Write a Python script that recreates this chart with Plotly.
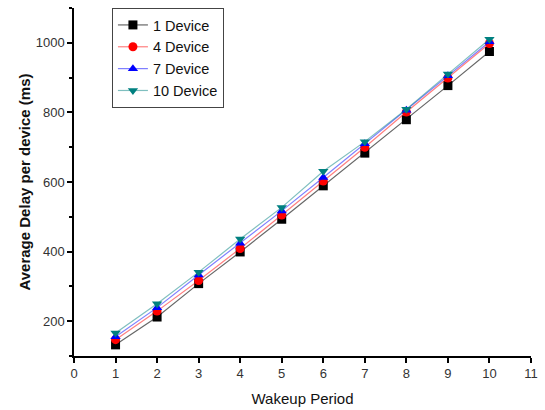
import plotly.graph_objects as go

wakeup = [1, 2, 3, 4, 5, 6, 7, 8, 9, 10]
dev1 = [132, 212, 308, 399, 493, 589, 683, 779, 877, 975]
dev4 = [147, 229, 317, 409, 505, 603, 700, 801, 899, 998]
dev7 = [155, 239, 333, 424, 517, 613, 710, 806, 905, 1003]
dev10 = [166, 250, 341, 436, 527, 631, 716, 809, 910, 1010]

series = [
    ("1 Device", dev1, "#000000", "rgba(0,0,0,0.6)", "square"),
    ("4 Device", dev4, "#ff0000", "rgba(255,0,0,0.5)", "circle"),
    ("7 Device", dev7, "#0000ff", "rgba(0,0,255,0.5)", "triangle-up"),
    ("10 Device", dev10, "#008080", "rgba(0,128,128,0.5)", "triangle-down"),
]

fig = go.Figure()
for name, vals, mc, lc, sym in series:
    fig.add_trace(go.Scatter(
        x=wakeup, y=vals, name=name, mode="lines+markers",
        line=dict(color=lc, width=1.2),
        marker=dict(symbol=sym, size=9, color=mc, line=dict(width=0)),
    ))

fig.update_layout(
    width=545, height=410,
    margin=dict(l=74, r=14, t=8, b=54, autoexpand=False),
    paper_bgcolor="white", plot_bgcolor="white",
    font=dict(family="Arial, Liberation Sans, sans-serif", color="#222222"),
    showlegend=True,
    legend=dict(
        x=0.083, y=1.0, xanchor="left", yanchor="top",
        bordercolor="#444444", borderwidth=1, bgcolor="white",
        font=dict(size=14.5, color="#111111"),
        tracegroupgap=0,
    ),
)
fig.update_xaxes(
    range=[0, 11], tickmode="array", tickvals=list(range(0, 12)),
    showgrid=False, zeroline=False, showline=True, linecolor="black", linewidth=1.5,
    ticks="outside", ticklen=5, tickwidth=1.5, tickcolor="black",
    tickfont=dict(size=13, color="#333333"), automargin=False,
    title=dict(text="Wakeup Period", font=dict(size=15, color="#111111"), standoff=13),
)
fig.update_yaxes(
    range=[100, 1100], tickmode="array", tickvals=[200, 400, 600, 800, 1000],
    showgrid=False, zeroline=False, showline=True, linecolor="black", linewidth=1.5,
    ticks="outside", ticklen=5, tickwidth=1.5, tickcolor="black",
    minor=dict(tickvals=[100, 300, 500, 700, 900, 1100], ticks="outside", ticklen=3, tickwidth=1.5, tickcolor="black"),
    tickfont=dict(size=13, color="#333333"), automargin=False,
    title=dict(text="<b>Average Delay per device (ms)</b>", font=dict(size=15, color="#111111"), standoff=1),
)

fig.write_html("out.html", config={"displayModeBar": False},
               post_script="document.body.style.margin='0';document.body.style.padding='0';")
